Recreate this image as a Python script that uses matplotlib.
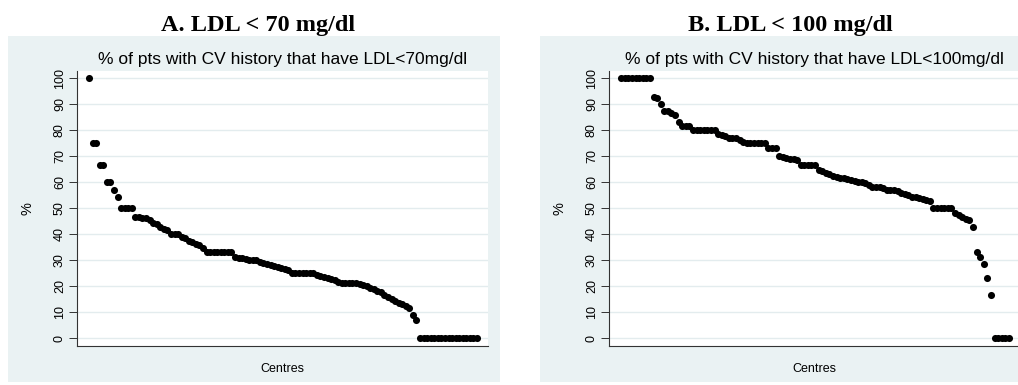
import numpy as np
import matplotlib.pyplot as plt
from matplotlib.patches import Rectangle

plt.rcParams['font.family'] = ['Liberation Sans', 'DejaVu Sans']

# % of patients per centre, ranked (panel A: LDL < 70, panel B: LDL < 100)
ldl70 = [100, 75, 75, 66.7, 66.7, 60, 60, 57.1, 54.5,
         50, 50, 50, 50, 46.7, 46.7, 46.4, 46.2,
         45.5, 44.4, 43.8, 42.9, 42.1, 41.7, 40, 40, 40,
         38.9, 38.5, 37.5, 37, 36.4, 35.7, 34.8,
         33.3, 33.3, 33.3, 33.3, 33.3, 33.3, 33.3, 33.3,
         31.3, 31, 30.8, 30.4, 30.2, 30, 30, 29.4, 28.9, 28.6, 28, 27.8, 27.3, 27, 26.7, 26.3,
         25, 25, 25, 25, 25, 25, 25,
         24.4, 24, 23.5, 23.1, 22.7, 22.2, 21.7, 21.4, 21.4, 21.4, 21.4,
         21.1, 20.8, 20.5, 20, 19.4, 18.8, 18.2, 17.6, 16.7, 15.8, 15, 14.3, 13.6, 13.3, 12.5, 11.8,
         9.1, 6.9,
         0, 0, 0, 0, 0, 0, 0, 0, 0, 0, 0, 0, 0, 0, 0, 0, 0]

ldl100 = [100, 100, 100, 100, 100, 100, 100, 100, 100,
          92.9, 92.3, 90, 87.5, 87.5, 86.7, 85.7, 83.3, 81.8, 81.8, 81.8,
          80, 80, 80, 80, 80, 80, 80,
          78.6, 78.3, 77.8, 77.1, 77, 76.9, 76.2, 75.6,
          75, 75, 75, 75, 75, 75, 73.3, 73.3, 73.3,
          70, 69.6, 69.2, 69, 68.8, 68.4,
          66.7, 66.7, 66.7, 66.7, 66.7,
          64.7, 64.3, 63.6, 63.2, 62.5, 62.1, 61.5, 61.5, 61.1, 60.9, 60.3, 60, 60, 59.6, 58.8, 58.3,
          58.3, 58.1, 57.7, 57.1, 57.1, 56.9, 56.5, 56, 55.6, 55.2, 54.5, 54.2, 53.8, 53.6, 53.3, 52.9,
          50, 50, 50, 50, 50, 50,
          48.1, 47.4, 46.7, 45.8, 45.5, 42.9,
          33.3, 31.3, 28.6, 23.1, 16.7,
          0, 0, 0, 0, 0]

titles = ["A. LDL < 70 mg/dl", "B. LDL < 100 mg/dl"]
subtitles = ["% of pts with CV history that have LDL<70mg/dl",
             "% of pts with CV history that have LDL<100mg/dl"]
yticks = list(range(0, 101, 10))

W, H = 1018, 385
bg = '#eaf2f3'
fig = plt.figure(figsize=(W / 100, H / 100), dpi=100)
fig.patch.set_facecolor('white')

for i, (vals, title, sub) in enumerate(zip([ldl70, ldl100], titles, subtitles)):
    x0 = 8 + i * 532          # left edge of grey box
    fig.patches.append(Rectangle((x0 / W, 3 / H), 492 / W, 346 / H,
                                 transform=fig.transFigure, facecolor=bg,
                                 edgecolor='none', zorder=-10))
    pl = x0 + 69               # plot region
    ax = fig.add_axes([pl / W, (H - 346) / H, 411 / W, 275 / H])
    ax.set_facecolor('white')
    n = len(vals)
    xs = np.arange(1, n + 1)
    ax.scatter(xs, vals, s=26, color='black', linewidths=0, zorder=3)
    ax.set_xlim(1 - 3.4, n + 3.1)
    ax.set_ylim(-3, 102.8)
    ax.set_yticks(yticks)
    ax.set_yticklabels([str(t) for t in yticks], rotation=90, va='center', fontsize=9)
    ax.tick_params(axis='y', length=6, width=0.7, color='#333333', pad=2)
    ax.set_xticks([])
    ax.grid(axis='y', color='#e3ecee', linewidth=1.0, zorder=0)
    ax.set_axisbelow(True)
    for s in ['top', 'right']:
        ax.spines[s].set_visible(False)
    for s in ['left', 'bottom']:
        ax.spines[s].set_color('#333333')
        ax.spines[s].set_linewidth(0.8)
    ax.set_ylabel('%', fontsize=10.5, labelpad=14)
    ax.set_xlabel('Centres', fontsize=9, labelpad=12)

    cx = pl + 205.5
    fig.text(cx / W, 1 - 64 / H, sub, ha='center', va='baseline', fontsize=12.5)
    fig.text((x0 + 250) / W, 1 - 31 / H, title, ha='center', va='baseline',
             fontsize=17.5, fontweight='bold', family=['Liberation Serif', 'DejaVu Serif'])

fig.savefig('out.png', dpi=100)
